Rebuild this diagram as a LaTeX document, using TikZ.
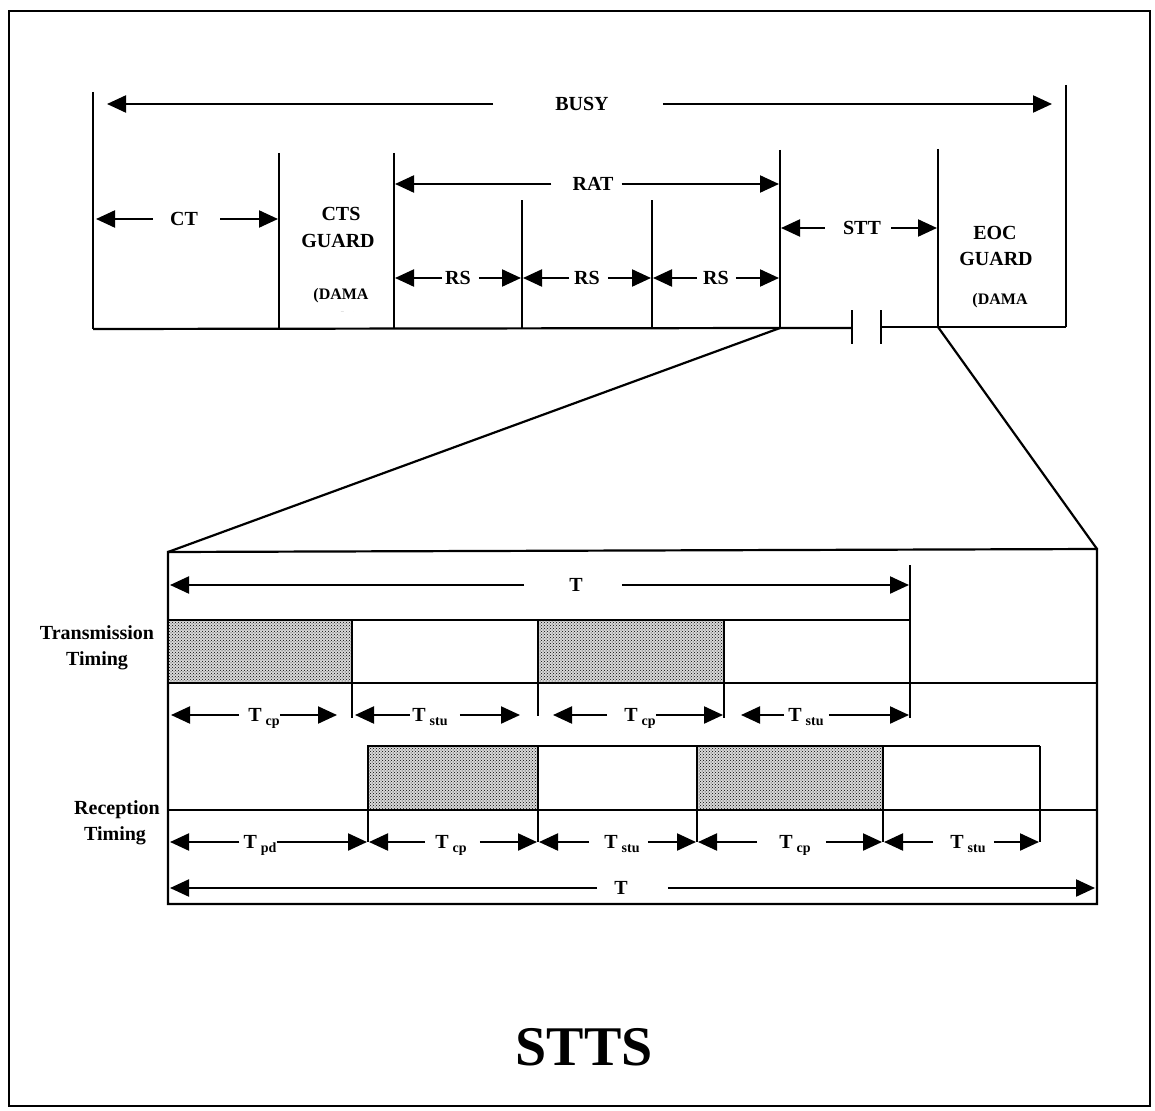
\documentclass[tikz,border=0pt]{standalone}
\usepackage{fontspec}
\setmainfont{Liberation Serif}
\usetikzlibrary{arrows.meta,patterns}
\tikzset{
  arr/.style={-{Triangle[length=19pt,width=17pt]}, line width=2.2pt},
  ln/.style={line width=2.2pt},
  frame/.style={line width=2.8pt},
  lbl/.style={inner sep=0pt, font=\fontsize{20}{20}\selectfont\bfseries, text height=13pt, text depth=0pt},
  small/.style={inner sep=0pt, font=\fontsize{16}{16}\selectfont\bfseries, text height=10pt, text depth=0pt},
  hatch/.style={line width=2.2pt, draw=black, fill=gray!30, postaction={pattern=crosshatch dots, pattern color=black}}
}
\newcommand\Tsub[1]{T\hspace{4pt}\raisebox{-4pt}{\fontsize{14}{14}\selectfont #1}}
% name, xL, xR, y, textx, label, gapL, gapR
\newcommand\dimarr[8]{%
  \node[lbl] (#1) at (#5,#4) {#6};
  \coordinate (#1L) at (#2,#4);
  \coordinate (#1R) at (#3,#4);
  \draw[arr] ([xshift=-#7pt]#1.west) -- (#1L);
  \draw[arr] ([xshift=#8pt]#1.east) -- (#1R);}
\begin{document}
\begin{tikzpicture}[x=1pt,y=-1pt]
\useasboundingbox (0,0) rectangle (1155,1110);
\fill[white] (0,0) rectangle (1155,1110);
% outer frame
\draw[frame] (9,11) rectangle (1150,1106);

% ---------- top diagram ----------
\coordinate (tl) at (93,92);   \coordinate (bl) at (93,329);
\coordinate (tr) at (1066,85); \coordinate (br) at (1066,327);
\draw[ln] (tl) -- (bl);
\draw[ln] (tr) -- (br);
\coordinate (c1t) at (279,153); \coordinate (c1b) at (279,329);
\coordinate (c2t) at (394,153); \coordinate (c2b) at (394,329);
\coordinate (r1t) at (522,200); \coordinate (r1b) at (522,329);
\coordinate (r2t) at (652,200); \coordinate (r2b) at (652,329);
\coordinate (s1t) at (780,150); \coordinate (s1b) at (780,328);
\coordinate (s2t) at (938,149); \coordinate (s2b) at (938,327);
\draw[ln] (c1t) -- (c1b);
\draw[ln] (c2t) -- (c2b);
\draw[ln] (r1t) -- (r1b);
\draw[ln] (r2t) -- (r2b);
\draw[ln] (s1t) -- (s1b);
\draw[ln] (s2t) -- (s2b);
% bottom line with break
\coordinate (k1) at (852,328); \coordinate (k2) at (881,327);
\draw[ln] (bl) -- (s1b) -- (k1);
\draw[ln] (k2) -- (s2b) -- (br);
\draw[ln] (852,310) -- (852,344);
\draw[ln] (881,310) -- (881,344);

\dimarr{busy}{107}{1052}{104}{582}{BUSY}{62}{54}
\dimarr{ct}{96}{278}{219}{184}{CT}{17}{22}
\dimarr{rat}{395}{779}{184}{593}{RAT}{21}{8}
\dimarr{rsa}{395}{521}{278}{458}{RS}{3}{8}
\dimarr{rsb}{523}{651}{278}{587}{RS}{5}{8}
\dimarr{rsc}{653}{779}{278}{716}{RS}{6}{7}
\dimarr{stt}{781}{937}{228}{862}{STT}{18}{10}

\node[lbl] (cts) at (341,214) {CTS};
\node[lbl] (ctsg) at (338,241) {GUARD};
\node[small] (ctsd) at (341,294) {(DAMA};
\begin{scope}
  \clip (300,304) rectangle (380,311);
  \node[small] (ctso) at (341,318) {only)};
\end{scope}
\node[lbl] (eoc) at (995,233) {EOC};
\node[lbl] (eocg) at (996,259) {GUARD};
\node[small] (eocd) at (1000,299) {(DAMA};

% zoom lines
\coordinate (zl) at (168,552);
\coordinate (zr) at (1097,549);
\draw[ln] (s1b) -- (zl);
\draw[ln] (s2b) -- (zr);

% ---------- lower diagram ----------
\draw[ln] (zl) -- (zr) -- (1097,904) -- (168,904) -- cycle;

% transmission row
\draw[hatch] (168,620) rectangle (352,683);
\draw[hatch] (538,620) rectangle (724,683);
\draw[ln] (168,620) -- (910,620);
\draw[ln] (168,683) -- (1097,683);
\draw[ln] (352,620) -- (352,718);
\draw[ln] (538,620) -- (538,716);
\draw[ln] (724,620) -- (724,718);
\draw[ln] (910,565) -- (910,718);

\dimarr{ttop}{170}{909}{585}{576}{T}{45}{39}
\dimarr{tcpa}{171}{337}{715}{264}{\Tsub{cp}}{9}{0}
\dimarr{tstua}{355}{520}{715}{430}{\Tsub{stu}}{2}{12}
\dimarr{tcpb}{553}{723}{715}{640}{\Tsub{cp}}{17}{0}
\dimarr{tstub}{741}{909}{715}{806}{\Tsub{stu}}{4}{5}

\node[lbl] (trans) at (97,633) {Transmission};
\node[lbl] (transt) at (97,659) {Timing};

% reception row
\draw[hatch] (368,746) rectangle (538,810);
\draw[hatch] (697,746) rectangle (883,810);
\draw[ln] (368,746) -- (1040,746);
\draw[ln] (168,810) -- (1097,810);
\foreach \x in {368,538,697,883,1040} \draw[ln] (\x,746) -- (\x,842);

\dimarr{tpd}{170}{367}{842}{260}{\Tsub{pd}}{4}{0}
\dimarr{tcpc}{369}{537}{842}{451}{\Tsub{cp}}{10}{13}
\dimarr{tstuc}{539}{696}{842}{622}{\Tsub{stu}}{15}{8}
\dimarr{tcpd}{698}{882}{842}{795}{\Tsub{cp}}{22}{15}
\dimarr{tstud}{884}{1039}{842}{968}{\Tsub{stu}}{17}{8}
\dimarr{tbot}{170}{1095}{888}{621}{T}{17}{40}

\node[lbl] (rec) at (117,808) {Reception};
\node[lbl] (rect) at (115,834) {Timing};

% title
\node[inner sep=0pt, font=\fontsize{56}{56}\selectfont\bfseries, text height=37pt, text depth=0pt] (stts) at (584,1047) {STTS};
\end{tikzpicture}
\end{document}
